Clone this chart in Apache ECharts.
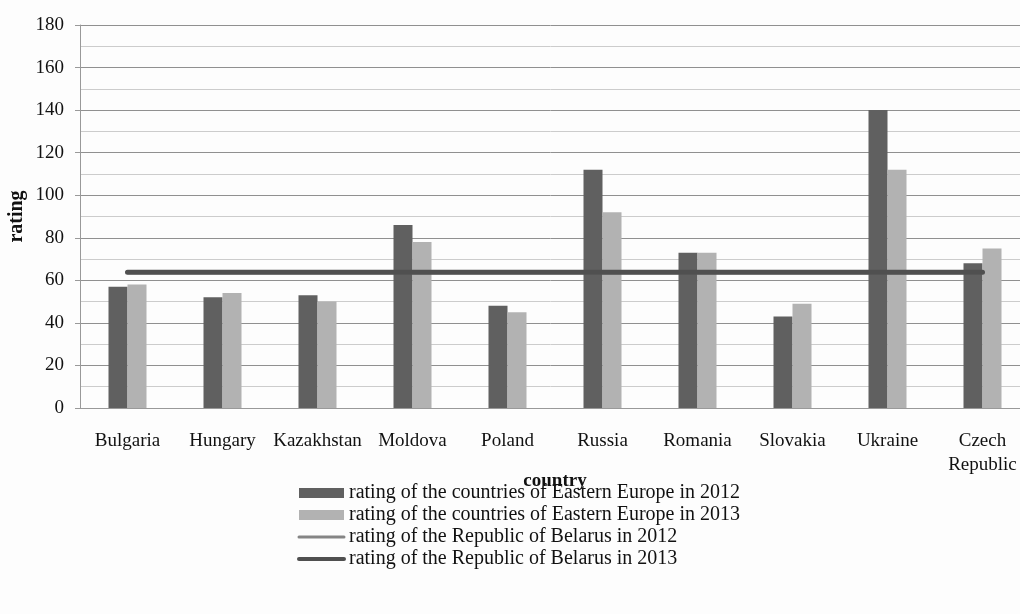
<!DOCTYPE html>
<html>
<head>
<meta charset="utf-8">
<script src="https://cdn.jsdelivr.net/npm/echarts@6/dist/echarts.min.js"></script>
<style>
    html, body { margin: 0; padding: 0; background: #fdfdfd; }
    #chart { width: 1020px; height: 614px; }
</style>
</head>
<body>
<div id="chart"></div>
<script>
    var countries = ["Bulgaria", "Hungary", "Kazakhstan", "Moldova", "Poland", "Russia", "Romania", "Slovakia", "Ukraine", "Czech\nRepublic"];
    var rating2012 = [57, 52, 53, 86, 48, 112, 73, 43, 140, 68];
    var rating2013 = [58, 54, 50, 78, 45, 92, 73, 49, 112, 75];
    var belarus2012 = [63.8, 63.8, 63.8, 63.8, 63.8, 63.8, 63.8, 63.8, 63.8, 63.8];
    var belarus2013 = [63.8, 63.8, 63.8, 63.8, 63.8, 63.8, 63.8, 63.8, 63.8, 63.8];
    var yTicks = [0, 20, 40, 60, 80, 100, 120, 140, 160, 180];

    var font = "Liberation Serif";
    var chart = echarts.init(document.getElementById("chart"));

    // legend keeps just a plain line for the two Belarus series
    var hideDot = { color: "rgba(0,0,0,0)", borderWidth: 0 };

    var option = {
        backgroundColor: "#fdfdfd",
        animation: false,
        textStyle: { fontFamily: font, color: "#111" },
        grid: { left: 80, right: -10, top: 25, bottom: 206, outerBoundsMode: "none" },
        legend: {
            orient: "vertical",
            left: 297,
            top: 483,
            padding: 0,
            itemWidth: 45,
            itemHeight: 10,
            itemGap: 2,
            textStyle: { fontFamily: font, fontSize: 20, lineHeight: 16, color: "#111" },
            data: [
                { name: "rating of the countries of Eastern Europe in 2012", icon: "rect" },
                { name: "rating of the countries of Eastern Europe in 2013", icon: "rect" },
                { name: "rating of the Republic of Belarus in 2012", itemStyle: hideDot,
                    lineStyle: { color: "#858585", width: 3, cap: "round" } },
                { name: "rating of the Republic of Belarus in 2013", itemStyle: hideDot,
                    lineStyle: { color: "#505050", width: 4, cap: "round" } }
            ]
        },
        xAxis: {
            type: "category",
            data: countries,
            name: "country",
            nameLocation: "middle",
            nameGap: 64,
            nameMoveOverlap: false,
            nameTextStyle: { fontFamily: font, fontSize: 19, fontWeight: "bold", color: "#111" },
            axisLine: { lineStyle: { color: "#999" } },
            axisTick: { show: false },
            axisLabel: { fontFamily: font, fontSize: 19, color: "#111", margin: 21, lineHeight: 24, interval: 0 }
        },
        yAxis: {
            type: "value",
            min: yTicks[0],
            max: yTicks[yTicks.length - 1],
            interval: 20,
            name: "rating",
            nameLocation: "middle",
            nameGap: 53,
            nameMoveOverlap: false,
            nameTextStyle: { fontFamily: font, fontSize: 20, fontWeight: "bold", color: "#111" },
            axisLine: { show: true, lineStyle: { color: "#999" } },
            axisTick: { show: true, length: 5, lineStyle: { color: "#999" } },
            axisLabel: { fontFamily: font, fontSize: 19, color: "#111", margin: 16 },
            splitLine: { lineStyle: { color: "#909090" } },
            minorTick: { show: false, splitNumber: 2 },
            minorSplitLine: { show: true, lineStyle: { color: "#cccccc" } }
        },
        series: [
            {
                name: "rating of the countries of Eastern Europe in 2012",
                type: "bar",
                data: rating2012,
                barWidth: 19,
                barGap: "0%",
                itemStyle: { color: "#606060" }
            },
            {
                name: "rating of the countries of Eastern Europe in 2013",
                type: "bar",
                data: rating2013,
                barWidth: 19,
                itemStyle: { color: "#b2b2b2" }
            },
            {
                name: "rating of the Republic of Belarus in 2012",
                type: "line",
                data: belarus2012,
                symbol: "none",
                itemStyle: { color: "#858585" },
                lineStyle: { color: "#858585", width: 4, cap: "round" }
            },
            {
                name: "rating of the Republic of Belarus in 2013",
                type: "line",
                data: belarus2013,
                symbol: "none",
                itemStyle: { color: "#505050" },
                lineStyle: { color: "#505050", width: 5, cap: "round" }
            }
        ]
    };

    chart.setOption(option);
</script>
</body>
</html>
